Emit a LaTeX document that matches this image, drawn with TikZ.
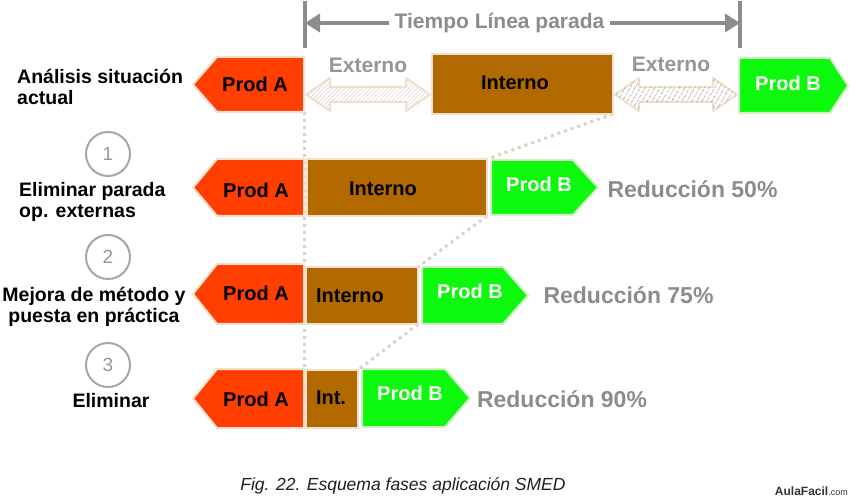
\documentclass[tikz,border=0pt]{standalone}
\usepackage{fontspec}
\setmainfont{Liberation Sans}
\usetikzlibrary{arrows.meta,patterns.meta}

\definecolor{prodA}{RGB}{255,62,0}
\definecolor{brownI}{RGB}{178,106,0}
\definecolor{greenB}{RGB}{12,248,12}
\definecolor{edgeC}{RGB}{240,224,204}
\definecolor{edgeG}{RGB}{214,236,200}
\definecolor{grayT}{RGB}{140,140,140}
\definecolor{grayL}{RGB}{150,150,150}
\definecolor{dotC}{RGB}{216,210,200}
\definecolor{hatchL}{RGB}{222,218,212}
\definecolor{hatchD}{RGB}{70,70,70}

\begin{document}
\begin{tikzpicture}[x=1pt,y=-1pt,
  shapeedge/.style={draw=edgeC, line width=2pt, line join=round},
  prodAshape/.style={shapeedge, fill=prodA},
  prodBshape/.style={shapeedge, draw=edgeG, fill=greenB},
  intbox/.style={shapeedge, fill=brownI, inner sep=0pt, outer sep=0pt},
  boxtxt/.style={font=\bfseries\fontsize{20}{24}\selectfont, inner sep=0pt},
  btxt/.style={boxtxt, text=white},
  redtxt/.style={font=\bfseries\fontsize{23}{27}\selectfont, text=grayT, inner sep=0pt},
  exttxt/.style={font=\bfseries\fontsize{21}{25}\selectfont, text=grayL, inner sep=0pt},
  steplbl/.style={font=\bfseries\fontsize{19.5}{21}\selectfont, inner sep=0pt},
  stepcircle/.style={circle, draw=grayL!85, line width=2pt, minimum size=44pt, inner sep=0pt,
      text=grayL, font=\fontsize{19}{22}\selectfont},
  dotline/.style={draw=dotC, line width=3pt, dash pattern=on 3pt off 4pt},
  extarrow/.style={draw=edgeC, line width=2pt, line join=round, fill=white},
  topline/.style={draw=grayT, line width=3.5pt},
]
\useasboundingbox (0,0) rectangle (852,497);

% ---------- coordinates for Prod A right edge ----------
\coordinate (a1b) at (304,112);
\coordinate (a4t) at (304,369);

% ---------- Interno boxes ----------
\node[intbox, minimum width=181pt, minimum height=60pt] (i1) at (522.5,84) {};
\node[intbox, minimum width=180pt, minimum height=57pt] (i2) at (397,187.5) {};
\node[intbox, minimum width=112pt, minimum height=57pt] (i3) at (362,295.5) {};
\node[intbox, minimum width=52pt, minimum height=58pt] (i4) at (332,399) {};

% ---------- dotted guide lines ----------
\draw[dotline] (a1b) -- (a4t);
\draw[dotline] (i1.south east) -- (i2.north east);
\draw[dotline] (i2.south east) -- (i3.north east);
\draw[dotline] (i3.south east) -- (i4.north east);

% redraw boxes on top of dotted lines
\path[intbox] (i1.north west) rectangle (i1.south east);
\path[intbox] (i2.north west) rectangle (i2.south east);
\path[intbox] (i3.north west) rectangle (i3.south east);
\path[intbox] (i4.north west) rectangle (i4.south east);

% ---------- Prod A shapes ----------
\path[prodAshape] (193,84.5) -- (217,57) -- (304,57) -- (304,112) -- (217,112) -- cycle;
\path[prodAshape] (193,187.5) -- (217,159) -- (304,159) -- (304,216) -- (217,216) -- cycle;
\path[prodAshape] (193,294) -- (217,264) -- (304,264) -- (304,324) -- (217,324) -- cycle;
\path[prodAshape] (193,398.5) -- (217,369) -- (304,369) -- (304,428) -- (217,428) -- cycle;

% ---------- Prod B shapes ----------
\path[prodBshape] (739,58) -- (830,58) -- (848,85.5) -- (830,113) -- (739,113) -- cycle;
\path[prodBshape] (491,160) -- (573,160) -- (598,187.5) -- (573,215) -- (491,215) -- cycle;
\path[prodBshape] (422,267) -- (503,267) -- (528,295.5) -- (503,324) -- (422,324) -- cycle;
\path[prodBshape] (362,369) -- (445,369) -- (470,398) -- (445,427) -- (362,427) -- cycle;

% ---------- Externo double arrows ----------
\path[extarrow, postaction={pattern={Lines[angle=45,distance=3pt,line width=0.6pt]}, pattern color=hatchL}]
  (306,94.5) -- (330,78) -- (330,87) -- (406,87) -- (406,78) -- (430,94.5)
  -- (406,111) -- (406,102) -- (330,102) -- (330,111) -- cycle;
\path[extarrow, postaction={pattern={Lines[angle=60,distance=4pt,line width=0.5pt]}, pattern color=hatchD}]
  (615,94.5) -- (639,78) -- (639,87) -- (713,87) -- (713,78) -- (737,94.5)
  -- (713,111) -- (713,102) -- (639,102) -- (639,111) -- cycle;

% ---------- Top: Tiempo Linea parada ----------
\coordinate (tlt) at (305,1);
\coordinate (tlb) at (305,48);
\coordinate (trt) at (740,1);
\coordinate (trb) at (740,48);
\coordinate (ta) at (305,23);
\coordinate (tb) at (740,23);
\draw[topline] (tlt) -- (tlb);
\draw[topline] (trt) -- (trb);
\draw[draw=grayT, line width=4pt, {Triangle[length=15pt,width=18pt]}-{Triangle[length=15pt,width=18pt]}] (ta) -- (tb);
\node[fill=white, inner xsep=6pt, inner ysep=2pt, font=\bfseries\fontsize{21}{25}\selectfont, text=grayT] (tiempo) at (499.5,23) {Tiempo Línea parada};

% ---------- texts in shapes ----------
\node[boxtxt] (pa1) at (255,84) {Prod A};
\node[boxtxt] (pa2) at (256,190) {Prod A};
\node[boxtxt] (pa3) at (256,293) {Prod A};
\node[boxtxt] (pa4) at (256,399.5) {Prod A};

\node[boxtxt] (t1) at (515,83) {Interno};
\node[boxtxt] (t2) at (383,189) {Interno};
\node[boxtxt] (t3) at (350,296) {Interno};
\node[boxtxt] (t4) at (331,398) {Int.};

\node[btxt] (pb1) at (788,83) {Prod B};
\node[btxt] (pb2) at (539,184) {Prod B};
\node[btxt] (pb3) at (470,291.5) {Prod B};
\node[btxt] (pb4) at (410,393) {Prod B};

\node[exttxt] (e1) at (368,65) {Externo};
\node[exttxt] (e2) at (671,64) {Externo};

\node[redtxt] (r1) at (692.5,189) {Reducción 50\%};
\node[redtxt] (r2) at (628.5,295) {Reducción 75\%};
\node[redtxt] (r3) at (562,399) {Reducción 90\%};

% ---------- step circles ----------
\node[stepcircle] (c1) at (108,154) {1};
\node[stepcircle] (c2) at (108,257) {2};
\node[stepcircle] (c3) at (108,365) {3};

% ---------- left labels ----------
\node[steplbl, anchor=west, align=left] (l1) at (17,86.5) {Análisis situación\\actual};
\node[steplbl, anchor=west, align=left] (l2) at (19,202) {Eliminar parada\\op. externas};
\node[steplbl, align=center] (l3) at (94,306.5) {Mejora de método y\\puesta en práctica};
\node[steplbl] (l4) at (111,401) {Eliminar};

% ---------- caption ----------
\node[font=\itshape\fontsize{17.5}{20}\selectfont, text=black!88, inner sep=0pt] (cap) at (403,486) {Fig. 22. Esquema fases aplicación SMED};
\node[inner sep=0pt, text=black!80, anchor=east] (logo) at (848,491) {{\bfseries\fontsize{12}{14}\selectfont AulaFacil}{\fontsize{9}{11}\selectfont .com}};
\end{tikzpicture}
\end{document}
